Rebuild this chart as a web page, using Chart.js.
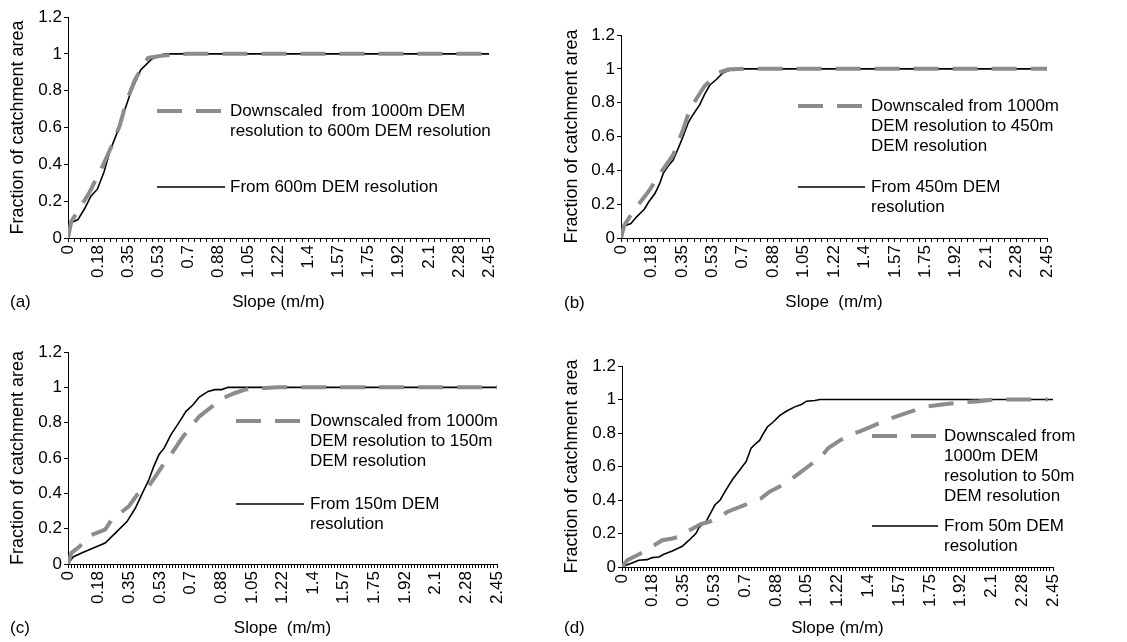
<!DOCTYPE html>
<html>
<head>
<meta charset="utf-8">
<script src="https://cdn.jsdelivr.net/npm/chart.js@4.4.1/dist/chart.umd.min.js"></script>
<style>
  body { margin: 0; background: #fff; }
  #wrap { position: relative; width: 1127px; height: 642px; font-family: "Liberation Sans", Arial, sans-serif; }
  canvas { position: absolute; }
  .tag { position: absolute; font-size: 17px; color: #000; line-height: 20px; }
</style>
</head>
<body>
<div id="wrap">
  <canvas id="ca" width="560" height="320" style="left:0;top:0"></canvas>
  <canvas id="cb" width="567" height="320" style="left:560px;top:0"></canvas>
  <canvas id="cc" width="560" height="322" style="left:0;top:320px"></canvas>
  <canvas id="cd" width="567" height="322" style="left:560px;top:320px"></canvas>
  <div class="tag" style="left:10px;top:292px">(a)</div>
  <div class="tag" style="left:564px;top:293px">(b)</div>
  <div class="tag" style="left:10px;top:618px">(c)</div>
  <div class="tag" style="left:564px;top:618px">(d)</div>
</div>
<script>
// x tick labels (slope, m/m)
const xTickLabels = ['0', '0.18', '0.35', '0.53', '0.7', '0.88', '1.05', '1.22', '1.4', '1.57', '1.75', '1.92', '2.1', '2.28', '2.45'];

// (a) 600m
const aDownX = [0, 0.019, 0.068, 0.126, 0.204, 0.252, 0.301, 0.34, 0.388, 0.427, 0.466, 0.543, 0.611, 0.698, 2.45];
const aDownY = [0, 0.09, 0.162, 0.25, 0.396, 0.495, 0.61, 0.74, 0.856, 0.92, 0.978, 0.99, 0.995, 1.0, 1.0];
const aFromX = [0, 0.023, 0.058, 0.097, 0.132, 0.171, 0.21, 0.243, 0.281, 0.32, 0.359, 0.392, 0.423, 0.485, 0.563, 2.45];
const aFromY = [0, 0.085, 0.10, 0.16, 0.225, 0.265, 0.36, 0.47, 0.56, 0.667, 0.775, 0.847, 0.913, 0.97, 1.0, 1.0];

// (b) 450m
const bDownX = [0, 0.019, 0.07, 0.157, 0.233, 0.30, 0.357, 0.395, 0.443, 0.48, 0.558, 0.615, 0.71, 2.45];
const bDownY = [0, 0.075, 0.158, 0.273, 0.392, 0.491, 0.64, 0.758, 0.838, 0.897, 0.976, 0.996, 1.0, 1.0];
const bFromX = [0, 0.019, 0.057, 0.09, 0.118, 0.134, 0.16, 0.195, 0.223, 0.243, 0.267, 0.30, 0.329, 0.357, 0.386, 0.414, 0.453, 0.48, 0.51, 0.548, 0.586, 0.644, 2.45];
const bFromY = [0, 0.071, 0.085, 0.125, 0.154, 0.17, 0.214, 0.263, 0.323, 0.382, 0.42, 0.461, 0.53, 0.60, 0.68, 0.729, 0.788, 0.847, 0.903, 0.937, 0.976, 1.0, 1.0];

// (c) 150m
const cDownX = [0, 0.019, 0.067, 0.116, 0.212, 0.25, 0.299, 0.347, 0.395, 0.453, 0.50, 0.55, 0.588, 0.645, 0.694, 0.751, 0.80, 0.848, 0.886, 0.954, 1.01, 1.127, 1.2, 2.45];
const cDownY = [0, 0.062, 0.1, 0.157, 0.194, 0.251, 0.289, 0.326, 0.392, 0.43, 0.496, 0.572, 0.619, 0.704, 0.77, 0.836, 0.874, 0.911, 0.94, 0.968, 0.987, 0.996, 1.0, 1.0];
const cFromX = [0, 0.029, 0.087, 0.145, 0.212, 0.27, 0.337, 0.385, 0.424, 0.462, 0.49, 0.52, 0.55, 0.588, 0.626, 0.674, 0.713, 0.75, 0.80, 0.838, 0.877, 0.915, 2.45];
const cFromY = [0, 0.04, 0.066, 0.09, 0.119, 0.175, 0.24, 0.317, 0.40, 0.477, 0.553, 0.62, 0.657, 0.732, 0.789, 0.864, 0.9, 0.945, 0.977, 0.987, 0.987, 1.0, 1.0];

// (d) 50m
const dDownX = [0, 0.029, 0.086, 0.143, 0.229, 0.286, 0.334, 0.368, 0.448, 0.496, 0.543, 0.60, 0.696, 0.791, 0.839, 0.915, 0.982, 1.058, 1.134, 1.173, 1.23, 1.296, 1.353, 1.43, 1.487, 1.573, 1.649, 1.716, 1.821, 1.907, 2.03, 2.125, 2.42];
const dDownY = [0, 0.04, 0.07, 0.104, 0.16, 0.17, 0.184, 0.21, 0.256, 0.27, 0.29, 0.33, 0.37, 0.41, 0.45, 0.49, 0.54, 0.60, 0.66, 0.71, 0.75, 0.79, 0.81, 0.844, 0.87, 0.904, 0.93, 0.956, 0.97, 0.98, 0.99, 1.0, 1.0];
const dFromX = [0, 0.029, 0.057, 0.095, 0.143, 0.172, 0.21, 0.238, 0.286, 0.343, 0.381, 0.42, 0.438, 0.477, 0.505, 0.528, 0.558, 0.591, 0.629, 0.677, 0.706, 0.734, 0.753, 0.782, 0.80, 0.826, 0.858, 0.896, 0.934, 0.982, 1.02, 1.049, 1.096, 1.125, 2.45];
const dFromY = [0, 0.014, 0.024, 0.04, 0.044, 0.056, 0.06, 0.076, 0.096, 0.124, 0.16, 0.20, 0.236, 0.27, 0.324, 0.37, 0.40, 0.46, 0.524, 0.59, 0.63, 0.71, 0.73, 0.756, 0.79, 0.836, 0.864, 0.904, 0.93, 0.956, 0.97, 0.99, 0.994, 1.0, 1.0];

// legend texts
const aNames = ['Downscaled  from 1000m DEM\nresolution to 600m DEM resolution', 'From 600m DEM resolution'];
const bNames = ['Downscaled from 1000m\nDEM resolution to 450m\nDEM resolution', 'From 450m DEM\nresolution'];
const cNames = ['Downscaled from 1000m\nDEM resolution to 150m\nDEM resolution', 'From 150m DEM\nresolution'];
const dNames = ['Downscaled from\n1000m DEM\nresolution to 50m\nDEM resolution', 'From 50m DEM\nresolution'];

const FONT = '"Liberation Sans", Arial, sans-serif';
Chart.defaults.font.family = FONT;
Chart.defaults.font.size = 17;
Chart.defaults.color = '#000';

// draws the legend entries inside the plot, like the original
const inLegend = {
    id: 'inLegend',
    afterDatasetsDraw(chart, args, opts) {
        const ctx = chart.ctx;
        ctx.save();
        opts.items.forEach((it, i) => {
            const ds = chart.data.datasets[i];
            ctx.beginPath();
            ctx.strokeStyle = ds.borderColor;
            ctx.lineWidth = ds.borderWidth;
            ctx.setLineDash(ds.borderDash || []);
            ctx.moveTo(it.x0, it.y);
            ctx.lineTo(it.x1, it.y);
            ctx.stroke();
            ctx.setLineDash([]);
            ctx.fillStyle = '#000';
            ctx.font = '17px ' + FONT;
            ctx.textBaseline = 'middle';
            ds.label.split('\n').forEach((line, k) => {
                ctx.fillText(line, opts.textX, it.y + k * opts.lineH);
            });
        });
        ctx.restore();
    }
};

function pts(xs, ys) {
    return xs.map((x, i) => ({ x: x, y: ys[i] }));
}

function makePanel(id, p) {
    const canvas = document.getElementById(id);
    const H = canvas.height;
    new Chart(canvas.getContext('2d'), {
        type: 'line',
        data: {
            datasets: [{
                label: p.names[0],
                data: pts(p.downX, p.downY),
                borderColor: '#8c8c8c',
                borderWidth: 4,
                borderDash: [25, 14],
                pointRadius: 0,
                tension: 0,
                order: 1
            }, {
                label: p.names[1],
                data: pts(p.fromX, p.fromY),
                borderColor: '#000',
                borderWidth: 1.6,
                pointRadius: 0,
                tension: 0,
                order: 2
            }]
        },
        options: {
            responsive: false,
            animation: false,
            events: [],
            layout: { padding: { left: 0, top: p.area.t, right: canvas.width - p.area.r, bottom: 0 } },
            plugins: {
                legend: { display: false },
                tooltip: { enabled: false },
                inLegend: { items: p.legend, textX: p.textX, lineH: 20 }
            },
            scales: {
                x: {
                    type: 'linear',
                    min: 0,
                    max: 2.45,
                    afterBuildTicks: (s) => {
                        const n = Math.round(2.45 / p.step);
                        const t = [];
                        for (let i = 0; i <= n; i++) t.push({ value: i * p.step });
                        s.ticks = t;
                    },
                    afterFit: (s) => { s.height = H - p.area.b; },
                    ticks: {
                        autoSkip: false,
                        minRotation: 90,
                        maxRotation: 90,
                        padding: 3,
                        callback: (v, i) => (i % p.per === 0 ? xTickLabels[i / p.per] : '')
                    },
                    grid: { display: true, drawOnChartArea: false, drawTicks: true, tickLength: 4, color: '#000' },
                    border: { color: '#000', width: 1 },
                    title: { display: true, text: p.xTitle, padding: { top: 0, bottom: p.xTitlePad } }
                },
                y: {
                    min: 0,
                    max: 1.2,
                    afterFit: (s) => { s.width = p.area.l; },
                    ticks: { stepSize: 0.2, padding: 2, callback: (v) => String(+v.toFixed(1)) },
                    grid: { display: true, drawOnChartArea: false, drawTicks: true, tickLength: 4, color: '#000' },
                    border: { color: '#000', width: 1 },
                    title: { display: true, text: 'Fraction of catchment area', font: { size: 18 }, padding: { top: p.yTitlePad, bottom: 0 } }
                }
            }
        },
        plugins: [inLegend]
    });
}

makePanel('ca', {
    downX: aDownX, downY: aDownY, fromX: aFromX, fromY: aFromY, names: aNames,
    area: { l: 68, r: 489, t: 17, b: 238 }, step: 0.035, per: 5,
    legend: [{ x0: 157, x1: 225, y: 111 }, { x0: 157, x1: 225, y: 187 }], textX: 230,
    xTitle: 'Slope (m/m)', xTitlePad: 7, yTitlePad: 7
});
makePanel('cb', {
    downX: bDownX, downY: bDownY, fromX: bFromX, fromY: bFromY, names: bNames,
    area: { l: 61, r: 487, t: 35, b: 238 }, step: 0.035, per: 5,
    legend: [{ x0: 238, x1: 305, y: 106 }, { x0: 238, x1: 305, y: 187 }], textX: 311,
    xTitle: 'Slope  (m/m)', xTitlePad: 7, yTitlePad: 1
});
makePanel('cc', {
    downX: cDownX, downY: cDownY, fromX: cFromX, fromY: cFromY, names: cNames,
    area: { l: 68, r: 497, t: 32, b: 244 }, step: 0.0175, per: 10,
    legend: [{ x0: 236, x1: 304, y: 101 }, { x0: 236, x1: 304, y: 184 }], textX: 310,
    xTitle: 'Slope  (m/m)', xTitlePad: 3, yTitlePad: 7
});
makePanel('cd', {
    downX: dDownX, downY: dDownY, fromX: dFromX, fromY: dFromY, names: dNames,
    area: { l: 62, r: 493, t: 46, b: 247 }, step: 0.0175, per: 10,
    legend: [{ x0: 312, x1: 378, y: 116 }, { x0: 312, x1: 378, y: 206 }], textX: 384,
    xTitle: 'Slope (m/m)', xTitlePad: 3, yTitlePad: 1
});
</script>
</body>
</html>
